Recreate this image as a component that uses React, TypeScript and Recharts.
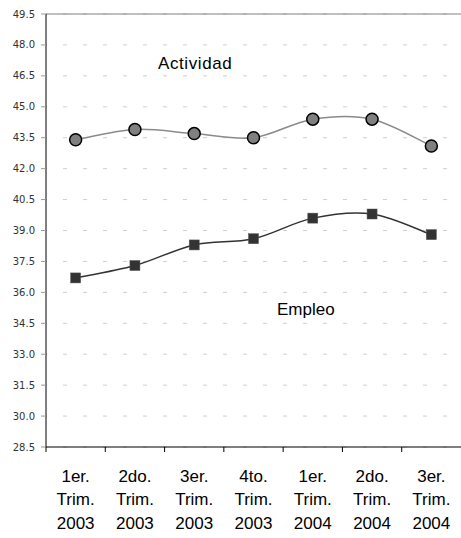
import React from "react";
import {
  LineChart,
  Line,
  XAxis,
  YAxis,
  CartesianGrid,
  ReferenceLine,
  Customized,
} from "recharts";

const quarters = ["1er.", "2do.", "3er.", "4to.", "1er.", "2do.", "3er."];
const years = ["2003", "2003", "2003", "2003", "2004", "2004", "2004"];
const actividad = [43.4, 43.9, 43.7, 43.5, 44.4, 44.4, 43.1];
const empleo = [36.7, 37.3, 38.3, 38.6, 39.6, 39.8, 38.8];
const yTicks = [28.5, 30, 31.5, 33, 34.5, 36, 37.5, 39, 40.5, 42, 43.5, 45, 46.5, 48, 49.5];

const data = quarters.map((q, i) => ({
  key: `${q} ${years[i]}`,
  quarter: q,
  year: years[i],
  actividad: actividad[i],
  empleo: empleo[i],
}));

const W = 461;
const H = 538;
const PLOT_LEFT = 46;
const BAND = (W - PLOT_LEFT) / quarters.length;
const LABEL_FONT = "'Liberation Sans', Arial, sans-serif";

// Excel-like smoothing (Catmull-Rom through the points)
function smoothCurve(context: any) {
  let xs: number[] = [];
  let ys: number[] = [];
  return {
    areaStart() {},
    areaEnd() {},
    lineStart() {
      xs = [];
      ys = [];
    },
    lineEnd() {
      const n = xs.length;
      if (!n) return;
      context.moveTo(xs[0], ys[0]);
      for (let i = 0; i < n - 1; i++) {
        const p = Math.max(i - 1, 0);
        const q = Math.min(i + 2, n - 1);
        const c1x = xs[i] + (xs[i + 1] - xs[p]) / 6;
        const c1y = ys[i] + (ys[i + 1] - ys[p]) / 6;
        const c2x = xs[i + 1] - (xs[q] - xs[i]) / 6;
        const c2y = ys[i + 1] - (ys[q] - ys[i]) / 6;
        context.bezierCurveTo(c1x, c1y, c2x, c2y, xs[i + 1], ys[i + 1]);
      }
    },
    point(x: number, y: number) {
      xs.push(+x);
      ys.push(+y);
    },
  };
}

const XTick = (props: any) => {
  const { x, y, index } = props;
  const d = data[index];
  if (!d) return null;
  return (
    <g>
      <line x1={x - BAND / 2} x2={x - BAND / 2} y1={y - 5} y2={y} stroke="#000" strokeWidth={1} />
      <text textAnchor="middle" fontFamily={LABEL_FONT} fontSize={17} fill="#000">
        <tspan x={x} y={y + 30}>{d.quarter}</tspan>
        <tspan x={x} y={y + 53}>Trim.</tspan>
        <tspan x={x} y={y + 77}>{d.year}</tspan>
      </text>
    </g>
  );
};

const SquareDot = (props: any) => {
  const { cx, cy } = props;
  if (cx == null || cy == null) return null;
  return <rect x={cx - 5} y={cy - 5} width={10} height={10} fill="#333" stroke="#555" strokeWidth={0.5} />;
};

const Notes = () => (
  <g fontFamily={LABEL_FONT} fontSize={17} fill="#000">
    <text x={158} y={69} letterSpacing={0.6}>Actividad</text>
    <text x={277} y={315}>Empleo</text>
  </g>
);

export default function App() {
  return (
    <div style={{ position: "absolute", left: 0, top: 0, width: W, height: H, overflow: "hidden", background: "#fff" }}>
      <LineChart width={W} height={H} data={data} margin={{ top: 14, right: 0, bottom: 0, left: 0 }}>
        <CartesianGrid vertical={false} stroke="#cfcfcf" strokeDasharray="4 16" strokeDashoffset={-17} />
        <ReferenceLine y={49.5} stroke="#808080" strokeWidth={1} />
        <XAxis
          dataKey="key"
          scale="band"
          height={91}
          axisLine={{ stroke: "#000", strokeWidth: 1 }}
          tickLine={false}
          tickSize={5}
          tickMargin={0}
          interval={0}
          tick={<XTick />}
        />
        <YAxis
          domain={[28.5, 49.5]}
          ticks={yTicks}
          width={PLOT_LEFT}
          interval={0}
          axisLine={{ stroke: "#000", strokeWidth: 1 }}
          tickLine={{ stroke: "#999" }}
          tickSize={5}
          tickMargin={6}
          tick={{ fontSize: 10, fill: "#333", fontFamily: "'DejaVu Sans', Verdana, sans-serif" }}
          tickFormatter={(v: number) => v.toFixed(1)}
        />
        <Line
          dataKey="actividad"
          type={smoothCurve as any}
          stroke="#8a8a8a"
          strokeWidth={1.5}
          dot={{ r: 6, fill: "#808080", stroke: "#000", strokeWidth: 1.5 }}
          activeDot={false}
          isAnimationActive={false}
        />
        <Line
          dataKey="empleo"
          type={smoothCurve as any}
          stroke="#333"
          strokeWidth={1.5}
          dot={<SquareDot />}
          activeDot={false}
          isAnimationActive={false}
        />
        <Customized component={Notes} />
      </LineChart>
    </div>
  );
}
